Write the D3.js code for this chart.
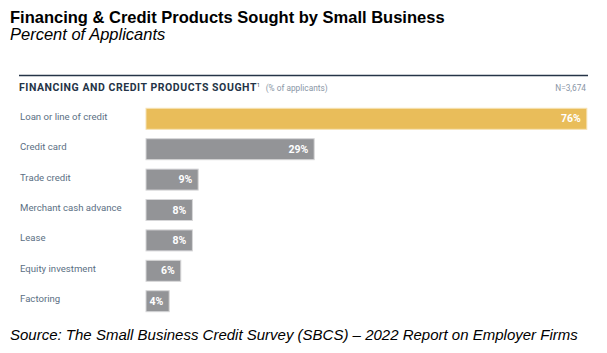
<!DOCTYPE html>
<html>
<head>
<meta charset="utf-8">
<script src="https://cdn.jsdelivr.net/npm/d3@7"></script>
<style>
	body { margin: 0; background: #fff; }
	svg { display: block; }
</style>
</head>
<body>
<div id="wrapper"></div>
<script>
const categories = ["Loan or line of credit", "Credit card", "Trade credit", "Merchant cash advance", "Lease", "Equity investment", "Factoring"];
const values = [76, 29, 9, 8, 8, 6, 4];
const highlight = ["Loan or line of credit"];

const width = 607;
const height = 353;

const svg = d3.select("#wrapper")
	.append("svg")
	.attr("width", width)
	.attr("height", height);

// titles
svg.append("text")
	.attr("x", 10).attr("y", 23)
	.attr("font-family", "Liberation Sans, Arial, sans-serif")
	.attr("font-weight", "bold")
	.attr("font-size", 16.5)
	.attr("fill", "#000")
	.text("Financing & Credit Products Sought by Small Business");

svg.append("text")
	.attr("x", 10).attr("y", 40)
	.attr("font-family", "Liberation Sans, Arial, sans-serif")
	.attr("font-style", "italic")
	.attr("font-size", 16.5)
	.attr("fill", "#000")
	.text("Percent of Applicants");

svg.append("text")
	.attr("x", 10).attr("y", 340)
	.attr("font-family", "Liberation Sans, Arial, sans-serif")
	.attr("font-style", "italic")
	.attr("font-size", 15)
	.attr("fill", "#000")
	.text("Source: The Small Business Credit Survey (SBCS) \u2013 2022 Report on Employer Firms");

// panel header
svg.append("line")
	.attr("x1", 19).attr("x2", 588)
	.attr("y1", 75.5).attr("y2", 75.5)
	.attr("stroke", "#253447")
	.attr("stroke-width", 1.5);

const head = svg.append("text")
	.attr("x", 19).attr("y", 91)
	.attr("font-family", "Roboto, sans-serif")
	.attr("fill", "#253447");
head.append("tspan")
	.attr("font-weight", "bold")
	.attr("font-size", 10.5)
	.attr("letter-spacing", 0.55)
	.text("FINANCING AND CREDIT PRODUCTS SOUGHT");
head.append("tspan")
	.attr("font-size", 5)
	.attr("dy", -4)
	.text("1");
head.append("tspan")
	.attr("font-size", 8.3)
	.attr("dy", 4)
	.attr("dx", 6)
	.attr("fill", "#8a96a6")
	.text("(% of applicants)");

svg.append("text")
	.attr("x", 586).attr("y", 91)
	.attr("text-anchor", "end")
	.attr("font-family", "Roboto, sans-serif")
	.attr("font-size", 8.3)
	.attr("fill", "#8a96a6")
	.text("N=3,674");

// scales
const xScale = d3.scaleLinear()
	.domain([0, 100])
	.range([146, 726]);

const yScale = d3.scaleBand()
	.domain(categories)
	.range([98.9, 321.1])
	.padding(0.309);

const rows = categories.map((c, i) => ({ cat: c, val: values[i] }));

svg.selectAll(".bar")
	.data(rows)
	.enter().append("rect")
	.attr("class", "bar")
	.attr("x", xScale(0))
	.attr("y", d => yScale(d.cat))
	.attr("width", d => xScale(d.val) - xScale(0))
	.attr("height", yScale.bandwidth())
	.attr("fill", d => highlight.includes(d.cat) ? "#e9bd5a" : "#939497")
	.attr("stroke", d => highlight.includes(d.cat) ? "#f6e2b4" : "#d6d6d8")
	.attr("stroke-width", 1);

svg.selectAll(".cat")
	.data(rows)
	.enter().append("text")
	.attr("class", "cat")
	.attr("x", 20)
	.attr("y", d => yScale(d.cat) + yScale.bandwidth() / 2)
	.attr("dy", "0.1em")
	.attr("font-family", "Roboto, sans-serif")
	.attr("font-size", 9.6)
	.attr("fill", "#5b6f84")
	.text(d => d.cat);

svg.selectAll(".val")
	.data(rows)
	.enter().append("text")
	.attr("class", "val")
	.attr("x", d => xScale(d.val) - 6)
	.attr("y", d => yScale(d.cat) + yScale.bandwidth() / 2)
	.attr("dy", "0.35em")
	.attr("text-anchor", "end")
	.attr("font-family", "Roboto, sans-serif")
	.attr("font-weight", "bold")
	.attr("font-size", 10.5)
	.attr("fill", "#fff")
	.text(d => d.val + "%");
</script>
</body>
</html>
